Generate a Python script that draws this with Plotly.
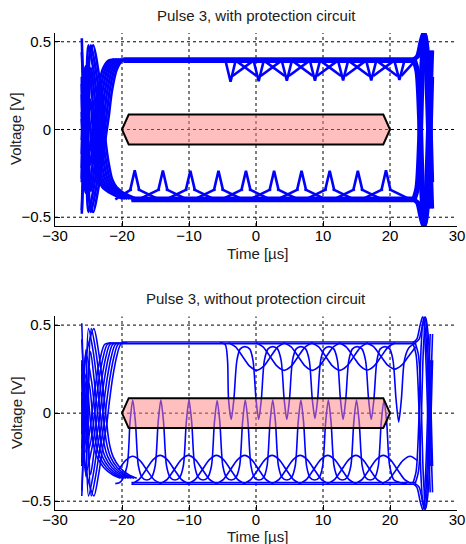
import plotly.graph_objects as go

# ---------------- axes / text ----------------
TIME_TICKS = [-30, -20, -10, 0, 10, 20, 30]
VOLT_TICKS = [-0.5, 0, 0.5]
TIME_GRID = [-20, -10, 0, 10, 20]
VOLT_GRID = [-0.5, 0, 0.5]
TIME_RANGE = [-30, 30]
VOLT_RANGE = [-0.55, 0.55]
TITLES = ["Pulse 3, with protection circuit", "Pulse 3, without protection circuit"]
X_TITLE = "Time [µs]"
Y_TITLE = "Voltage [V]"

# ---------------- eye mask (hexagon) ----------------
MASK_T = [-20, -19, 19, 20, 19, -19, -20]
MASK_V = [0.0, 0.085, 0.085, 0.0, -0.085, -0.085, 0.0]

# ---------------- panel A : with protection circuit ----------------
A_RAIL_HI = [0.387, 0.396, 0.405]
A_RAIL_LO = [-0.389, -0.398, -0.407]
A_DIP_T = [-3.8, 0.4, 4.6, 8.8, 13.0, 17.2, 21.4]
A_DIP_V = [0.272, 0.275, 0.278, 0.278, 0.280, 0.280, 0.282]
A_SPIKE_T = [-18.1, -13.9, -9.8, -5.6, -1.5, 2.7, 6.8, 11.0, 15.2, 19.4]
A_SPIKE_V = [-0.232, -0.234, -0.235, -0.235, -0.235, -0.235, -0.235, -0.235, -0.236, -0.232]
# leading edge (rising / falling settle curves)
A_RISE_T = [-24.3, -23.6, -23.0, -22.5, -22.0, -21.5, -20.8, -20.0, -19.0]
A_RISE_V = [-0.47, -0.35, -0.20, -0.06, 0.07, 0.22, 0.34, 0.39, 0.40]
A_FALL_T = [-24.3, -23.6, -23.0, -22.5, -22.0, -21.5, -20.8, -20.0, -19.0, -17.8]
A_FALL_V = [0.48, 0.35, 0.17, -0.05, -0.19, -0.28, -0.33, -0.355, -0.375, -0.395]
A_FAN_SHIFT = [0.0, -0.35, -0.7, -1.05, -1.4, -1.75, -2.1]
A_RISE_START_V = [0.10, -0.28, 0.44, -0.06, 0.30, -0.46, 0.20]
A_RISE_MID_V = [-0.30, 0.15, -0.12, 0.34, -0.36, 0.05, -0.24]
A_FALL_START_V = [-0.14, 0.26, -0.48, 0.06, -0.30, 0.52, -0.22]
A_FALL_MID_V = [0.30, -0.15, 0.12, -0.34, 0.36, -0.05, 0.24]
# trailing edge ringing
RING_UP_T = [23.6, 24.2, 24.7, 25.1, 25.5, 25.9, 26.2]
RING_UP_V = [0.40, 0.42, 0.50, 0.55, 0.35, -0.10, -0.45]
RING_X_T = [23.6, 24.1, 24.5, 24.85, 25.2, 25.6, 26.0, 26.2]
RING_X_V = [0.40, 0.33, 0.05, -0.38, -0.54, -0.42, 0.02, 0.30]
A_RING_SHIFT = [-0.25, 0.0, 0.2]

# ---------------- panel B : without protection circuit ----------------
B_RAIL_HI = [0.394, 0.404]
B_RAIL_LO = [-0.394, -0.404]
B_DIP_T = [-3.7, 0.4, 4.6, 8.8, 13.0, 17.2, 21.3]
B_DIP_V = [-0.035, -0.035, -0.035, -0.030, -0.035, -0.035, -0.050]
B_SPIKE_T = [-18.4, -14.2, -10.0, -5.8, -1.6, 2.5, 6.7, 10.8, 15.0, 19.1]
B_SPIKE_V = [0.075, 0.075, 0.075, 0.072, 0.075, 0.075, 0.075, 0.075, 0.075, 0.072]
B_ARC_C = [0.1, 4.2, 8.4, 12.5, 16.6, 20.7]
B_ARC_V = [0.243, 0.243, 0.243, 0.243, 0.245, 0.250]
B_HUMP_C = [-18.4, -14.3, -10.1, -5.9, -1.7, 2.4, 6.6, 10.7, 14.9, 19.0, 23.0]
B_HUMP_V = [-0.245, -0.240, -0.240, -0.240, -0.240, -0.240, -0.240, -0.240, -0.240, -0.240, -0.245]
# arc / hump profile: (offset from centre, depth fraction)
ARC_OFFSET = [-4.2, -3.15, -2.1, -1.05, 0.0, 1.05, 2.1, 3.15, 4.2]
ARC_DEPTH = [0.0, 0.15, 0.5, 0.85, 1.0, 0.85, 0.5, 0.15, 0.0]
B_RISE_T = [-24.2, -23.5, -22.9, -22.3, -21.9, -21.4, -20.8, -20.2, -19.2]
B_RISE_V = [-0.47, -0.35, -0.20, -0.07, 0.06, 0.20, 0.32, 0.39, 0.40]
B_FALL_T = [-24.2, -23.5, -22.9, -22.3, -21.9, -21.3, -20.3, -19.0, -17.8]
B_FALL_V = [0.48, 0.35, 0.17, -0.05, -0.17, -0.25, -0.31, -0.35, -0.37]
B_FAN_SHIFT = [0.0, -0.4, -0.8, -1.2, -1.6, -2.0, -2.4]
B_RISE_START_V = [0.12, -0.30, 0.42, -0.08, 0.28, -0.44, 0.22]
B_RISE_MID_V = [-0.32, 0.18, -0.10, 0.36, -0.34, 0.02, -0.22]
B_FALL_START_V = [-0.12, 0.30, -0.47, 0.08, -0.28, 0.51, -0.20]
B_FALL_MID_V = [0.32, -0.18, 0.10, -0.36, 0.34, -0.02, 0.22]
B_RING_SHIFT = [-0.2, 0.15]

BLUE = "#0000ff"
FONT = "Liberation Sans, Arial, Helvetica, sans-serif"


def poly(xs, ys, pts, lo=-26.2, hi=26.4):
    pts = [(t, v) for t, v in pts if lo <= t <= hi]
    if len(pts) < 2:
        return
    for t, v in pts:
        xs.append(t)
        ys.append(v)
    xs.append(None)
    ys.append(None)


def fan(xs, ys, tt, vv, shifts, starts, mids):
    for s, v0, v1 in zip(shifts, starts, mids):
        pts = [(t + s, v) for t, v in zip(tt, vv) if t + s > -25.1]
        poly(xs, ys, [(-26.0, v0), (-25.4, v1)] + pts)


def ring(xs, ys, shifts):
    for s in shifts:
        for tt, vv in ((RING_UP_T, RING_UP_V), (RING_X_T, RING_X_V)):
            poly(xs, ys, [(t + s, v) for t, v in zip(tt, vv)])
            poly(xs, ys, [(t + s, -v) for t, v in zip(tt, vv)])


def arc(xs, ys, c, base, peak, lo, hi):
    poly(xs, ys, [(c + o, base + (peak - base) * f) for o, f in zip(ARC_OFFSET, ARC_DEPTH)], lo=lo, hi=hi)


# ---------- panel A geometry ----------
a_lx, a_ly = [], []
for lvl in A_RAIL_HI:
    poly(a_lx, a_ly, [(-19.8, lvl), (23.9, lvl)])
for lvl in A_RAIL_LO:
    poly(a_lx, a_ly, [(-18.6, lvl), (23.9, lvl)])
for k, (d, v) in enumerate(zip(A_DIP_T, A_DIP_V)):
    poly(a_lx, a_ly, [(d - 0.75, 0.392), (d, v), (d + 0.75, 0.392)])
    poly(a_lx, a_ly, [(d + 0.3, 0.305), (min(d + 3.6, 23.9), 0.398)])
    if k > 0:
        poly(a_lx, a_ly, [(d - 3.6, 0.398), (d - 0.3, 0.305)])
for s, v in zip(A_SPIKE_T, A_SPIKE_V):
    poly(a_lx, a_ly, [(s - 0.7, -0.35), (s, v), (s + 0.7, -0.35)])
    poly(a_lx, a_ly, [(max(s - 3.6, -21.0), -0.398), (s - 0.45, -0.34)])
    poly(a_lx, a_ly, [(s + 0.45, -0.34), (min(s + 3.6, 23.9), -0.398)])

a_cx, a_cy = [], []
fan(a_cx, a_cy, A_RISE_T, A_RISE_V, A_FAN_SHIFT, A_RISE_START_V, A_RISE_MID_V)
fan(a_cx, a_cy, A_FALL_T, A_FALL_V, A_FAN_SHIFT, A_FALL_START_V, A_FALL_MID_V)
ring(a_cx, a_cy, A_RING_SHIFT)

# ---------- panel B geometry ----------
b_lx, b_ly = [], []
for lvl in B_RAIL_HI:
    poly(b_lx, b_ly, [(-20.0, lvl), (23.9, lvl)])
for lvl in B_RAIL_LO:
    poly(b_lx, b_ly, [(-18.6, lvl), (23.9, lvl)])

b_cx, b_cy = [], []
# upper ringing chain (deep dips)
pts = [(-5.4, 0.40), (-4.6, 0.39), (-4.25, 0.30)]
for k, (d, v) in enumerate(zip(B_DIP_T, B_DIP_V)):
    pts += [(d - 0.4, 0.08), (d, v), (d + 0.4, 0.08), (d + 0.85, 0.30)]
    if k < len(B_DIP_T) - 1:
        m = 0.5 * (d + B_DIP_T[k + 1])
        pts += [(m - 0.7, 0.365), (m, 0.378), (m + 0.7, 0.365), (B_DIP_T[k + 1] - 0.85, 0.30)]
pts += [(22.8, 0.37), (23.6, 0.395)]
poly(b_cx, b_cy, pts)
# lower ringing chain (tall spikes)
pts = [(-21.0, -0.40), (-20.2, -0.39), (-19.25, -0.30)]
for k, (s, v) in enumerate(zip(B_SPIKE_T, B_SPIKE_V)):
    pts += [(s - 0.4, -0.05), (s, v), (s + 0.4, -0.05), (s + 0.85, -0.30)]
    if k < len(B_SPIKE_T) - 1:
        m = 0.5 * (s + B_SPIKE_T[k + 1])
        pts += [(m - 0.7, -0.365), (m, -0.38), (m + 0.7, -0.365), (B_SPIKE_T[k + 1] - 0.85, -0.30)]
pts += [(20.6, -0.38), (21.6, -0.395), (22.5, -0.40)]
poly(b_cx, b_cy, pts)
# wide arcs / humps
for c, v in zip(B_ARC_C, B_ARC_V):
    arc(b_cx, b_cy, c, 0.40, v, -4.5, 24.2)
for c, v in zip(B_HUMP_C, B_HUMP_V):
    arc(b_cx, b_cy, c, -0.40, v, -21.5, 24.4)
fan(b_cx, b_cy, B_RISE_T, B_RISE_V, B_FAN_SHIFT, B_RISE_START_V, B_RISE_MID_V)
fan(b_cx, b_cy, B_FALL_T, B_FALL_V, B_FAN_SHIFT, B_FALL_START_V, B_FALL_MID_V)
ring(b_cx, b_cy, B_RING_SHIFT)

fig = go.Figure()


def add_panel(xa, ya, lx, ly, cx, cy, width):
    fig.add_trace(go.Scatter(x=lx, y=ly, mode="lines", xaxis=xa, yaxis=ya,
                             line=dict(color=BLUE, width=width), hoverinfo="skip"))
    fig.add_trace(go.Scatter(x=cx, y=cy, mode="lines", xaxis=xa, yaxis=ya,
                             line=dict(color=BLUE, width=width, shape="spline", smoothing=0.8),
                             hoverinfo="skip"))
    fig.add_trace(go.Scatter(x=MASK_T, y=MASK_V, mode="lines", xaxis=xa, yaxis=ya, fill="toself",
                             fillcolor="rgba(255,128,128,0.5)",
                             line=dict(color="black", width=2), hoverinfo="skip"))


add_panel("x", "y", a_lx, a_ly, a_cx, a_cy, 2.6)
add_panel("x2", "y2", b_lx, b_ly, b_cx, b_cy, 1.6)

axis_common = dict(showline=True, linecolor="black", linewidth=1, mirror=False, automargin=False,
                   ticks="inside", ticklen=5, tickcolor="black", showgrid=False, zeroline=False,
                   tickfont=dict(family=FONT, size=15, color="black"))
xaxis_extra = dict(ticklabelstandoff=-4)

shapes = []
for xr, yr in (("x", "y"), ("x2", "y2")):
    for g in TIME_GRID:
        shapes.append(dict(type="line", xref=xr, yref=yr, x0=g, x1=g, y0=VOLT_RANGE[0], y1=VOLT_RANGE[1],
                           line=dict(color="black", width=1, dash="dot"), layer="below"))
    for g in VOLT_GRID:
        shapes.append(dict(type="line", xref=xr, yref=yr, x0=TIME_RANGE[0], x1=TIME_RANGE[1], y0=g, y1=g,
                           line=dict(color="black", width=1, dash="dot"), layer="below"))

PLOT_BOTTOM = 510.0
PLOT_H = 477.0


def py(p):
    return (PLOT_BOTTOM - p) / PLOT_H


def px(p):
    return (p - 55.0) / 402.0


ann = []
tfont = dict(family=FONT, size=15, color="#202020")
for title, ty, xl_y, yl_y in ((TITLES[0], 15.7, 253.0, 129.0), (TITLES[1], 298.7, 536.0, 413.0)):
    ann.append(dict(text=title, x=px(256), y=py(ty), xref="paper", yref="paper",
                    xanchor="center", yanchor="middle", showarrow=False, font=tfont))
    ann.append(dict(text=X_TITLE, x=px(257), y=py(xl_y), xref="paper", yref="paper",
                    xanchor="center", yanchor="middle", showarrow=False, font=tfont))
    ann.append(dict(text=Y_TITLE, x=px(16), y=py(yl_y), xref="paper", yref="paper", textangle=-90,
                    xanchor="center", yanchor="middle", showarrow=False, font=tfont))

fig.update_layout(
    width=466, height=544, margin=dict(l=55, r=9, t=33, b=34, autoexpand=False),
    paper_bgcolor="white", plot_bgcolor="white", showlegend=False,
    xaxis=dict(domain=[0, 1], anchor="y", range=TIME_RANGE, tickvals=TIME_TICKS, **axis_common, **xaxis_extra),
    yaxis=dict(domain=[py(226), 1], anchor="x", range=VOLT_RANGE, tickvals=VOLT_TICKS, **axis_common),
    xaxis2=dict(domain=[0, 1], anchor="y2", range=TIME_RANGE, tickvals=TIME_TICKS, **axis_common, **xaxis_extra),
    yaxis2=dict(domain=[0, py(316.3)], anchor="x2", range=VOLT_RANGE, tickvals=VOLT_TICKS, **axis_common),
    shapes=shapes, annotations=ann,
)

fig.write_html("out.html", config={"displayModeBar": False})
